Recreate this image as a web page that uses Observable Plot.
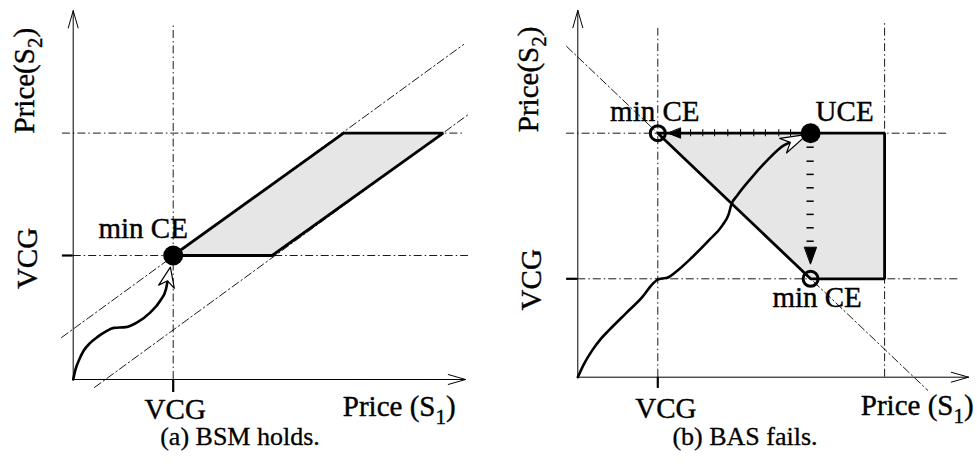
<!DOCTYPE html>
<html><head><meta charset="utf-8">
<script src="https://cdn.jsdelivr.net/npm/d3@7"></script>
<script src="https://cdn.jsdelivr.net/npm/@observablehq/plot@0.6"></script>
<style>
body{margin:0;background:#fff;}
#wrap{position:relative;width:977px;height:467px;overflow:hidden;background:#fff;font-family:"Liberation Serif","Times New Roman",serif;}
.panel{position:absolute;top:0;}
.cap{position:absolute;top:425px;font-size:26px;line-height:24px;white-space:nowrap;transform:translateX(-50%);color:#000;-webkit-text-stroke:0.3px #000;}
</style></head><body><div id="wrap"></div>
<script>
// ---------------- data (price units) ----------------
// Panel (a): BSM holds
const aAxisMax = [98.1, 92.2];                 // S1, S2 axis extents
const aVCG = [25, 31];                        // VCG prices (S1, S2) = min CE
const aTopPrice = 61.6;                       // upper S2 price level
const aRegionY = [31, 61.6];
const aRegionLeft = [25, 67.6];
const aRegionRight = [49.75, 92.5];
const aUpperDiag = [[-2.9, 10.5], [97.6, 83.75]];
const aLowerDiag = [[5.3, -2], [98.8, 66.25]];
const aPath = [[0,0],[0.6,2.6],[1.6,5.2],[2.65,7.25],[4.2,9.1],[6,10.6],[8,11.9],[10.15,12.9],[13.1,13.1],[16,14.3],[19.3,16.8],[21.8,19.75],[23.2,22.6]];
const aArrowTip = [24.3, 28.1];

// Panel (b): BAS fails
const bAxisMax = [97.7, 91.7];
const bVCG = [20, 24.6];
const bTopPrice = 61;
const bRightPrice = 76.7;
const bUCE = [58.2, 61];
const bMinCE = [[20, 61], [58.2, 24.6]];
const bRegionY = [24.6, 61];
const bRegionLeft = [58.2, 20];
const bRegionRight = [76.7, 76.7];
const bDiag = [[-2.8, 82.7], [87.5, -3.3]];
const bPath = [[0,0],[1.6,3.4],[3.6,6.7],[5.6,9.4],[7.75,11.7],[11.9,15.85],[16.1,20],[18.6,23.2],[19.8,24.3],[21,24.65],[22.35,24.85],[24.4,26.25],[28.6,30],[32.75,34.2],[36.1,37.9],[37.75,40.85],[38.4,43.2],[39.85,45.4],[43.2,49.6],[47.35,54.2],[51.6,58.0]];
const bArrowTip = [57.4, 60.7];
const bLeftTicks = [28.2, 31.25, 34.2, 37.5, 40.7, 44, 46.9, 50.25, 53.2];
const bDownDashes = [57.5, 54, 50.7, 47.35, 44, 40.7, 37.35, 34];

const captions = ["(a) BSM holds.", "(b) BAS fails."];

// ---------------- helpers ----------------
const FONT = "Liberation Serif";
const FS = 29;
const DASHDOT = "8,3,1.5,3";
const SHADE = "#e6e6e6";
const X = d => d[0], Y = d => d[1];

function head(tip, from, len, halfW, notch) {
  const dx = tip[0] - from[0], dy = tip[1] - from[1];
  const n = Math.hypot(dx, dy), ux = dx / n, uy = dy / n, px = -uy, py = ux;
  const bx = tip[0] - len * ux, by = tip[1] - len * uy;
  const nx = tip[0] - (len - notch) * ux, ny = tip[1] - (len - notch) * uy;
  return [tip, [bx + halfW * px, by + halfW * py], [nx, ny], [bx - halfW * px, by - halfW * py]];
}
function notchOf(tip, from, len, notch) {
  const dx = tip[0] - from[0], dy = tip[1] - from[1];
  const n = Math.hypot(dx, dy);
  return [tip[0] - (len - notch) * dx / n, tip[1] - (len - notch) * dy / n];
}
function txt(t, p, o) {
  return Plot.text([t], {x: () => p[0], y: () => p[1], text: d => d, fontFamily: FONT, fontSize: FS,
    fill: "black", stroke: "black", strokeWidth: 0.4, ...o});
}
function axes(max) {
  return Plot.arrow([{x1: 0, y1: 0, x2: 0, y2: max[1]}, {x1: 0, y1: 0, x2: max[0], y2: 0}],
    {x1: "x1", y1: "y1", x2: "x2", y2: "y2", stroke: "black", strokeWidth: 1, headLength: 27, headAngle: 32});
}
// turn "S1)" / "S2)" endings into real subscripts
function subscripts(svg) {
  const ns = "http://www.w3.org/2000/svg";
  svg.querySelectorAll("text").forEach(t => {
    const m = t.textContent.match(/^(.*S)([12])(\))$/);
    if (!m) return;
    t.textContent = "";
    const a = document.createElementNS(ns, "tspan"); a.textContent = m[1];
    const b = document.createElementNS(ns, "tspan"); b.textContent = m[2];
    b.setAttribute("dy", "8"); b.setAttribute("font-size", "21");
    const c = document.createElementNS(ns, "tspan"); c.textContent = m[3]; c.setAttribute("dy", "-8");
    t.append(a, b, c);
  });
  return svg;
}

// ---------------- panel (a) ----------------
const aHeadFrom = aPath[aPath.length - 1];
const aHead = head(aArrowTip, aHeadFrom, 5, 2, 1.5);
const aCurve = [...aPath, notchOf(aArrowTip, aHeadFrom, 5, 1.5)];
const aPoly = [aVCG, [aRegionRight[0], aRegionY[0]], [aRegionRight[1], aRegionY[1]], [aRegionLeft[1], aRegionY[1]], aVCG];

const plotA = Plot.plot({
  width: 489, height: 425,
  x: {domain: [0, 100], range: [72.7, 472.7], axis: null},
  y: {domain: [0, 100], range: [379, -21], axis: null},
  style: {fontFamily: FONT, background: "white", overflow: "visible"},
  marks: [
    Plot.areaX(aRegionY.map((y, i) => ({y, x1: aRegionLeft[i], x2: aRegionRight[i]})), {y: "y", x1: "x1", x2: "x2", fill: SHADE}),
    // dash-dot guides
    Plot.ruleY([aVCG[1]], {x1: 0, x2: 98.8, stroke: "black", strokeWidth: 0.9, strokeDasharray: DASHDOT}),
    Plot.ruleY([aTopPrice], {x1: -2.7, x2: 97.6, stroke: "black", strokeWidth: 0.9, strokeDasharray: DASHDOT}),
    Plot.ruleX([aVCG[0]], {y1: 0, y2: 89, stroke: "black", strokeWidth: 0.9, strokeDasharray: DASHDOT}),
    Plot.line(aUpperDiag, {x: X, y: Y, stroke: "black", strokeWidth: 0.9, strokeDasharray: DASHDOT}),
    Plot.line(aLowerDiag, {x: X, y: Y, stroke: "black", strokeWidth: 0.9, strokeDasharray: DASHDOT}),
    // VCG ticks
    Plot.ruleY([aVCG[1]], {x1: -2.7, x2: 0, stroke: "black", strokeWidth: 2.2}),
    Plot.ruleX([aVCG[0]], {y1: 0, y2: -3.25, stroke: "black", strokeWidth: 2.2}),
    axes(aAxisMax),
    // region outline
    Plot.line(aPoly, {x: X, y: Y, stroke: "black", strokeWidth: 2.8, strokeLinejoin: "miter"}),
    // price path
    Plot.line(aCurve, {x: X, y: Y, curve: "monotone-x", stroke: "black", strokeWidth: 2.6}),
    Plot.line(aHead, {x: X, y: Y, curve: "linear-closed", fill: "white", stroke: "black", strokeWidth: 1.2}),
    Plot.dot([aVCG], {x: X, y: Y, r: 10, fill: "black", stroke: "none"}),
    // labels
    txt("min CE", aVCG, {dx: -30, dy: -18, textAnchor: "middle", lineAnchor: "bottom"}),
    txt("VCG", [aVCG[0], 0], {dx: 2, dy: 39, textAnchor: "middle", lineAnchor: "bottom"}),
    txt("Price (S1)", [aAxisMax[0], 0], {dx: -10, dy: 36, textAnchor: "end", lineAnchor: "bottom"}),
    txt("Price(S2)", [0, aAxisMax[1]], {dx: -48, dy: 70, textAnchor: "middle", lineAnchor: "middle", rotate: -90}),
    txt("VCG", [0, aVCG[1]], {dx: -45, dy: 3, textAnchor: "middle", lineAnchor: "middle", rotate: -90})
  ]
});

// ---------------- panel (b) ----------------
const bHeadFrom = bPath[bPath.length - 1];
const bHead = head(bArrowTip, bHeadFrom, 6.7, 2, 2);
const bCurve = [...bPath, notchOf(bArrowTip, bHeadFrom, 6.7, 2)];
const bPoly = [bMinCE[0], [bRightPrice, bTopPrice], [bRightPrice, bVCG[1]], bMinCE[1], bMinCE[0]];
const bLeftHead = head([22.6, bTopPrice], [bUCE[0], bTopPrice], 3.1, 1.25, 0);
const bDownHead = head([bUCE[0], 28.35], bUCE, 4.15, 1.5, 0);

const plotB = Plot.plot({
  width: 488, height: 425,
  x: {domain: [0, 100], range: [88.3, 488.3], axis: null},
  y: {domain: [0, 100], range: [376.7, -23.3], axis: null},
  style: {fontFamily: FONT, background: "white", overflow: "visible"},
  marks: [
    Plot.areaX(bRegionY.map((y, i) => ({y, x1: bRegionLeft[i], x2: bRegionRight[i]})), {y: "y", x1: "x1", x2: "x2", fill: SHADE}),
    Plot.ruleY([bVCG[1]], {x1: 0, x2: 95.2, stroke: "black", strokeWidth: 0.9, strokeDasharray: DASHDOT}),
    Plot.ruleY([bTopPrice], {x1: -2.8, x2: 92.9, stroke: "black", strokeWidth: 0.9, strokeDasharray: DASHDOT}),
    Plot.ruleX([bVCG[0]], {y1: 0, y2: 87.2, stroke: "black", strokeWidth: 0.9, strokeDasharray: DASHDOT}),
    Plot.ruleX([bRightPrice], {y1: 0, y2: 88.7, stroke: "black", strokeWidth: 0.9, strokeDasharray: DASHDOT}),
    Plot.line(bDiag, {x: X, y: Y, stroke: "black", strokeWidth: 0.9, strokeDasharray: DASHDOT}),
    Plot.ruleY([bVCG[1]], {x1: -2.8, x2: 0, stroke: "black", strokeWidth: 2.2}),
    Plot.ruleX([bVCG[0]], {y1: 0, y2: -2.8, stroke: "black", strokeWidth: 2.2}),
    axes(bAxisMax),
    Plot.line(bPoly, {x: X, y: Y, stroke: "black", strokeWidth: 2.8, strokeLinejoin: "miter"}),
    // UCE -> min CE arrows
    Plot.ruleX(bLeftTicks, {x: d => d, y1: bTopPrice - 0.9, y2: bTopPrice + 0.9, stroke: "black", strokeWidth: 1}),
    Plot.line(bLeftHead, {x: X, y: Y, curve: "linear-closed", fill: "black", stroke: "black", strokeWidth: 1}),
    Plot.ruleY(bDownDashes, {y: d => d, x1: bUCE[0] - 0.9, x2: bUCE[0] + 0.9, stroke: "black", strokeWidth: 1.5}),
    Plot.line(bDownHead, {x: X, y: Y, curve: "linear-closed", fill: "black", stroke: "black", strokeWidth: 1}),
    // price path
    Plot.line(bCurve, {x: X, y: Y, curve: "monotone-x", stroke: "black", strokeWidth: 2.6}),
    Plot.line(bHead, {x: X, y: Y, curve: "linear-closed", fill: "white", stroke: "black", strokeWidth: 1.2}),
    Plot.dot(bMinCE, {x: X, y: Y, r: 7.5, fill: "none", stroke: "black", strokeWidth: 3}),
    Plot.dot([bUCE], {x: X, y: Y, r: 10, fill: "black", stroke: "none"}),
    txt("min CE", bMinCE[0], {dx: -3, dy: -12.7, textAnchor: "middle", lineAnchor: "bottom"}),
    txt("UCE", bUCE, {dx: 34, dy: -12.7, textAnchor: "middle", lineAnchor: "bottom"}),
    txt("min CE", bMinCE[1], {dx: 6.5, dy: 28.4, textAnchor: "middle", lineAnchor: "bottom"}),
    txt("VCG", [bVCG[0], 0], {dx: 8, dy: 41, textAnchor: "middle", lineAnchor: "bottom"}),
    txt("Price (S1)", [bAxisMax[0], 0], {dx: 5, dy: 38, textAnchor: "end", lineAnchor: "bottom"}),
    txt("Price(S2)", [0, bAxisMax[1]], {dx: -49, dy: 69, textAnchor: "middle", lineAnchor: "middle", rotate: -90}),
    txt("VCG", [0, bVCG[1]], {dx: -46, dy: 1, textAnchor: "middle", lineAnchor: "middle", rotate: -90})
  ]
});

const wrap = document.getElementById("wrap");
[[plotA, 0, 240], [plotB, 489, 745]].forEach(([p, left, cx], i) => {
  subscripts(p);
  const d = document.createElement("div");
  d.className = "panel"; d.style.left = left + "px";
  d.appendChild(p); wrap.appendChild(d);
  const c = document.createElement("div");
  c.className = "cap"; c.style.left = cx + "px"; c.textContent = captions[i];
  wrap.appendChild(c);
});
</script></body></html>
